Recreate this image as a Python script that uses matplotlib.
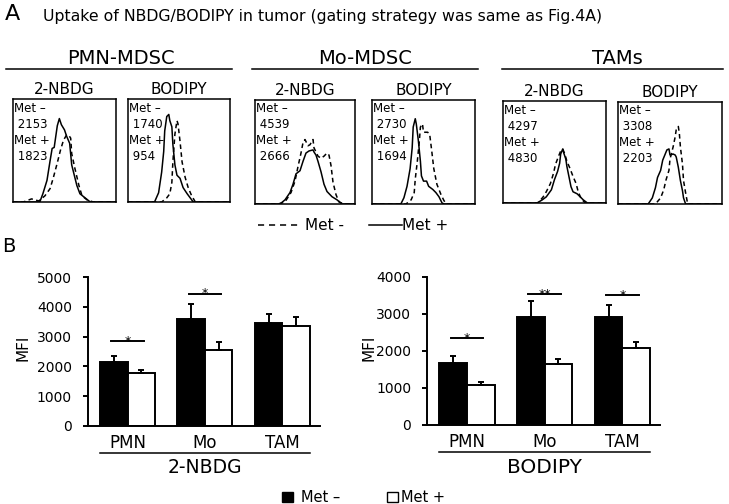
import numpy as np
import matplotlib
matplotlib.use("Agg")
import matplotlib.pyplot as plt
from matplotlib.lines import Line2D
from matplotlib.patches import Rectangle

plt.rcParams['font.family'] = ['DejaVu Sans']

W, H = 729, 504

# ---- panel A: histogram traces (x, y as fraction of each plot box)
pmn_nbdg_pos = [(0, 0), (0.26, 0), (0.29, 0.08), (0.33, 0.21), (0.36, 0.40), (0.38, 0.52), (0.40, 0.53), (0.41, 0.60),
                (0.43, 0.74), (0.45, 0.81), (0.47, 0.75), (0.50, 0.70), (0.52, 0.64), (0.55, 0.57), (0.57, 0.36),
                (0.59, 0.28), (0.62, 0.16), (0.65, 0.08), (0.70, 0.04), (0.75, 0), (1, 0)]
pmn_nbdg_neg = [(0, 0), (0.10, 0), (0.18, 0.03), (0.25, 0.01), (0.31, 0.06), (0.36, 0.13), (0.39, 0.23), (0.43, 0.38),
                (0.46, 0.50), (0.49, 0.60), (0.52, 0.65), (0.54, 0.65), (0.56, 0.62), (0.57, 0.47), (0.60, 0.33),
                (0.64, 0.16), (0.67, 0.06), (0.72, 0.02), (0.78, 0), (1, 0)]
pmn_bod_pos = [(0, 0), (0.26, 0), (0.30, 0.09), (0.33, 0.29), (0.35, 0.49), (0.36, 0.69), (0.38, 0.83), (0.40, 0.85),
               (0.41, 0.79), (0.43, 0.73), (0.44, 0.56), (0.46, 0.36), (0.48, 0.26), (0.51, 0.23), (0.54, 0.14),
               (0.58, 0.08), (0.61, 0.04), (0.64, 0), (1, 0)]
pmn_bod_neg = [(0, 0), (0.33, 0), (0.38, 0.04), (0.41, 0.08), (0.43, 0.19), (0.44, 0.39), (0.46, 0.66), (0.48, 0.79),
               (0.49, 0.76), (0.51, 0.59), (0.53, 0.39), (0.56, 0.24), (0.59, 0.14), (0.62, 0.07), (0.66, 0), (1, 0)]
mo_nbdg_pos = [(0, 0), (0.25, 0), (0.30, 0.04), (0.35, 0.11), (0.38, 0.19), (0.41, 0.29), (0.45, 0.32), (0.48, 0.41),
               (0.51, 0.49), (0.54, 0.51), (0.58, 0.52), (0.59, 0.50), (0.61, 0.47), (0.63, 0.41), (0.66, 0.31),
               (0.69, 0.19), (0.72, 0.12), (0.77, 0.07), (0.82, 0.04), (0.87, 0), (1, 0)]
mo_nbdg_neg = [(0, 0), (0.23, 0), (0.30, 0.02), (0.36, 0.11), (0.40, 0.22), (0.43, 0.36), (0.46, 0.49), (0.48, 0.59),
               (0.50, 0.62), (0.53, 0.56), (0.55, 0.57), (0.58, 0.62), (0.59, 0.54), (0.63, 0.46), (0.66, 0.44),
               (0.69, 0.46), (0.72, 0.49), (0.74, 0.47), (0.76, 0.37), (0.78, 0.21), (0.81, 0.09), (0.84, 0.02),
               (0.89, 0), (1, 0)]
mo_bod_pos = [(0, 0), (0.28, 0), (0.31, 0.06), (0.34, 0.17), (0.37, 0.34), (0.39, 0.54), (0.40, 0.74), (0.42, 0.82),
              (0.43, 0.77), (0.45, 0.61), (0.47, 0.41), (0.48, 0.27), (0.50, 0.22), (0.53, 0.22), (0.55, 0.17),
              (0.59, 0.14), (0.62, 0.11), (0.65, 0.07), (0.68, 0.01), (0.70, 0), (1, 0)]
mo_bod_neg = [(0, 0), (0.33, 0), (0.38, 0.04), (0.41, 0.11), (0.42, 0.24), (0.44, 0.41), (0.46, 0.61), (0.47, 0.74),
              (0.49, 0.77), (0.50, 0.69), (0.54, 0.69), (0.56, 0.67), (0.58, 0.51), (0.60, 0.34), (0.63, 0.19),
              (0.67, 0.09), (0.70, 0.03), (0.73, 0), (1, 0)]
tam_nbdg_pos = [(0, 0), (0.33, 0), (0.38, 0.03), (0.42, 0.06), (0.47, 0.13), (0.50, 0.23), (0.53, 0.31), (0.55, 0.39),
                (0.56, 0.48), (0.58, 0.53), (0.59, 0.49), (0.61, 0.43), (0.62, 0.36), (0.64, 0.26), (0.66, 0.16),
                (0.68, 0.11), (0.72, 0.09), (0.75, 0.06), (0.78, 0.03), (0.82, 0), (1, 0)]
tam_nbdg_neg = [(0, 0), (0.34, 0), (0.39, 0.06), (0.42, 0.11), (0.46, 0.19), (0.49, 0.29), (0.51, 0.38), (0.54, 0.46),
                (0.56, 0.51), (0.58, 0.53), (0.60, 0.48), (0.62, 0.41), (0.65, 0.34), (0.68, 0.26), (0.71, 0.19),
                (0.73, 0.11), (0.76, 0.04), (0.80, 0), (1, 0)]
tam_bod_pos = [(0, 0), (0.29, 0), (0.33, 0.06), (0.36, 0.16), (0.38, 0.26), (0.41, 0.33), (0.43, 0.43), (0.45, 0.48),
               (0.47, 0.53), (0.49, 0.54), (0.50, 0.48), (0.53, 0.49), (0.55, 0.48), (0.56, 0.46), (0.58, 0.36),
               (0.60, 0.23), (0.62, 0.13), (0.63, 0.06), (0.65, 0), (1, 0)]
tam_bod_neg = [(0, 0), (0.36, 0), (0.41, 0.06), (0.44, 0.14), (0.46, 0.23), (0.49, 0.33), (0.50, 0.44), (0.53, 0.56),
               (0.55, 0.66), (0.56, 0.73), (0.58, 0.76), (0.59, 0.69), (0.60, 0.56), (0.62, 0.39), (0.63, 0.23),
               (0.65, 0.11), (0.67, 0), (1, 0)]

# MFI numbers printed in each box (Met -, Met +)
mfi_text = [("2153", "1823"), ("1740", "954"), ("4539", "2666"),
            ("2730", "1694"), ("4297", "4830"), ("3308", "2203")]
hist_titles = ["2-NBDG", "BODIPY"] * 3
groups_a = ["PMN-MDSC", "Mo-MDSC", "TAMs"]

# ---- panel B: bar data
cells = ["PMN", "Mo", "TAM"]
nbdg_neg = [2160, 3580, 3470]
nbdg_neg_err = [190, 510, 290]
nbdg_pos = [1770, 2550, 3360]
nbdg_pos_err = [90, 260, 310]
bod_neg = [1680, 2900, 2920]
bod_neg_err = [180, 450, 330]
bod_pos = [1070, 1650, 2090]
bod_pos_err = [90, 125, 155]
# significance: (group index, height, label)
nbdg_sig = [(0, 2850, "*"), (1, 4440, "*")]
bod_sig = [(0, 2340, "*"), (1, 3530, "**"), (2, 3500, "*")]


def px(x0, y0, x1, y1):
    return [x0 / W, 1 - y1 / H, (x1 - x0) / W, (y1 - y0) / H]


def ftext(x, y, s, **kw):
    fig.text(x / W, 1 - y / H, s, **kw)


def fline(x0, x1, y, **kw):
    fig.add_artist(Line2D([x0 / W, x1 / W], [1 - y / H, 1 - y / H], transform=fig.transFigure,
                          color='black', **kw))


fig = plt.figure(figsize=(W / 100, H / 100), dpi=100)

ftext(12, 14, "A", fontsize=16, ha='center', va='center')
ftext(43, 20.5, "Uptake of NBDG/BODIPY in tumor (gating strategy was same as Fig.4A)",
      fontsize=11.3, ha='left', va='baseline')

# group headers
header_x = [121, 365, 617]
header_lines = [(6, 232), (252, 478), (502, 723)]
for name, cx, (l0, l1) in zip(groups_a, header_x, header_lines):
    ftext(cx, 59, name, fontsize=14, ha='center', va='center')
    fline(l0, l1, 69, lw=1.1)

boxes = [(13, 99, 116, 202), (128, 99, 230, 202), (255, 100, 355, 204),
         (372, 100, 475, 204), (503, 101, 606, 203), (618, 102, 722, 204)]
traces = [(pmn_nbdg_neg, pmn_nbdg_pos), (pmn_bod_neg, pmn_bod_pos), (mo_nbdg_neg, mo_nbdg_pos),
          (mo_bod_neg, mo_bod_pos), (tam_nbdg_neg, tam_nbdg_pos), (tam_bod_neg, tam_bod_pos)]

for b, (neg, pos), title, (n1, n2) in zip(boxes, traces, hist_titles, mfi_text):
    ax = fig.add_axes(px(*b))
    neg = np.array(neg)
    pos = np.array(pos)
    ax.plot(neg[:, 0], neg[:, 1], color='black', lw=1.1, dashes=(3, 2.2))
    ax.plot(pos[:, 0], pos[:, 1], color='black', lw=1.1)
    ax.set_xlim(0, 1)
    ax.set_ylim(0, 1)
    ax.set_xticks([])
    ax.set_yticks([])
    for s in ax.spines.values():
        s.set_linewidth(1.1)
    hb = b[3] - b[1]
    ax.text(0.5, 1 + 9.5 / hb, title, transform=ax.transAxes, fontsize=11, ha='center', va='center')
    ax.text(0.01, 1 - 9 / hb, "Met \u2013", transform=ax.transAxes, fontsize=8.5, va='center')
    ax.text(0.01, 1 - 25 / hb, " " + n1, transform=ax.transAxes, fontsize=8.5, va='center')
    ax.text(0.01, 1 - 41 / hb, "Met +", transform=ax.transAxes, fontsize=8.5, va='center')
    ax.text(0.01, 1 - 57 / hb, " " + n2, transform=ax.transAxes, fontsize=8.5, va='center')

# legend of panel A
fig.add_artist(Line2D([258 / W, 302 / W], [1 - 225 / H] * 2, transform=fig.transFigure,
                      color='black', lw=1.1, dashes=(4, 3.2)))
ftext(305, 225, "Met -", fontsize=11, va='center')
fline(369, 402, 225, lw=1.1)
ftext(402, 225, "Met +", fontsize=11, va='center')

# ---- panel B
ftext(9, 247, "B", fontsize=14, ha='center', va='center')

bw = 0.355
xg = np.arange(len(cells))


def bar_panel(rect, neg, neg_err, pos, pos_err, ymax, sig, xlabel, xlabel_size):
    ax = fig.add_axes(px(*rect))
    ax.bar(xg - bw / 2, neg, bw, color='black', edgecolor='black', lw=1.4)
    ax.bar(xg + bw / 2, pos, bw, color='white', edgecolor='black', lw=1.4)
    ax.errorbar(xg - bw / 2, neg, yerr=[np.zeros(3), neg_err], fmt='none', ecolor='black',
                elinewidth=1.4, capsize=2.5, capthick=1.4)
    ax.errorbar(xg + bw / 2, pos, yerr=[np.zeros(3), pos_err], fmt='none', ecolor='black',
                elinewidth=1.4, capsize=2.5, capthick=1.4)
    ax.set_xlim(-0.51, 2.485)
    ax.set_ylim(0, ymax)
    ax.set_yticks(np.arange(0, ymax + 1, 1000))
    ax.tick_params(axis='y', length=3.6, width=1.4, pad=8, labelsize=10)
    ax.set_xticks([])
    for s in ['top', 'right']:
        ax.spines[s].set_visible(False)
    for s in ['left', 'bottom']:
        ax.spines[s].set_linewidth(1.4)
    tr = ax.get_xaxis_transform()
    for i, c in enumerate(cells):
        ax.text(i, -0.115, c, transform=tr, fontsize=12, ha='center', va='center')
    ax.plot([-bw, 2 + bw], [-0.183, -0.183], transform=tr, color='black', lw=1.1, clip_on=False)
    ax.text(1, -0.285, xlabel, transform=tr, fontsize=xlabel_size, ha='center', va='center')
    for g, yv, lab in sig:
        ax.plot([g - 0.21, g + 0.21], [yv, yv], color='black', lw=1.4)
        ax.annotate(lab, (g, yv), xytext=(0, -2.5), textcoords='offset points',
                    ha='center', va='baseline', fontsize=9)
    return ax


bar_panel((88, 277.3, 320, 425.7), nbdg_neg, nbdg_neg_err, nbdg_pos, nbdg_pos_err, 5000, nbdg_sig,
          "2-NBDG", 13.5)
bar_panel((427.3, 276.7, 660, 425), bod_neg, bod_neg_err, bod_pos, bod_pos_err, 4000, bod_sig,
          "BODIPY", 14.5)

ftext(23, 348, "MFI", fontsize=11, rotation=90, ha='center', va='center')
ftext(369, 348, "MFI", fontsize=11, rotation=90, ha='center', va='center')

# bottom legend
fig.add_artist(Rectangle((282 / W, 1 - 502 / H), 10.5 / W, 10.5 / H, transform=fig.transFigure,
                         facecolor='black', edgecolor='black', lw=1))
ftext(301, 497, "Met \u2013", fontsize=10.5, va='center')
fig.add_artist(Rectangle((387 / W, 1 - 502 / H), 10.5 / W, 10.5 / H, transform=fig.transFigure,
                         facecolor='white', edgecolor='black', lw=1))
ftext(401, 497, "Met +", fontsize=10.5, va='center')

fig.savefig("out.png", dpi=100)
